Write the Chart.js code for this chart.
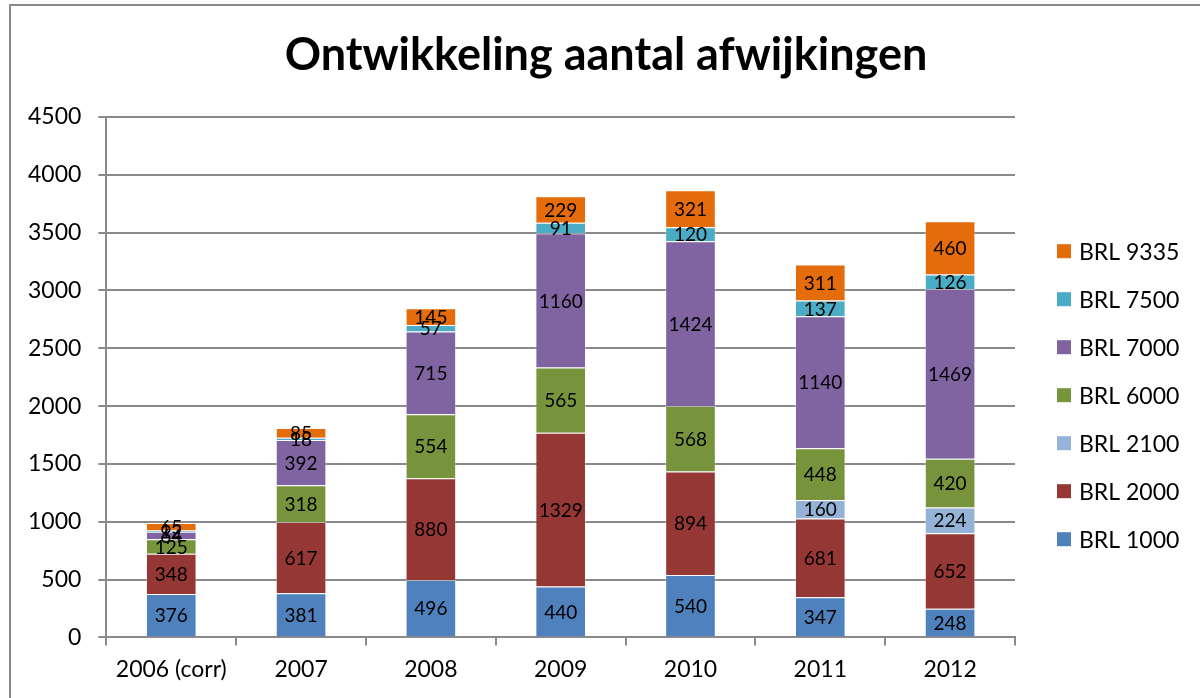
<!DOCTYPE html>
<html>
<head>
<meta charset="utf-8">
<script src="https://cdn.jsdelivr.net/npm/chart.js@4.4.1/dist/chart.umd.min.js"></script>
<style>
  html, body { margin: 0; padding: 0; background: #fff; }
  #wrap { position: relative; width: 1200px; height: 698px; overflow: hidden; }
  #frame { position: absolute; left: 9px; top: 4px; width: 1300px; height: 800px;
           border-top: 2px solid #8a8a8a; border-left: 2px solid #8a8a8a; box-sizing: border-box; }
  canvas { position: absolute; left: 0; top: 0; }
</style>
</head>
<body>
<div id="wrap">
  <div id="frame"></div>
  <canvas id="c" width="1200" height="698"></canvas>
</div>
<script>
const categories = ["2006 (corr)", "2007", "2008", "2009", "2010", "2011", "2012"];
const brl1000 = [376, 381, 496, 440, 540, 347, 248];
const brl2000 = [348, 617, 880, 1329, 894, 681, 652];
const brl2100 = [null, null, null, null, null, 160, 224];
const brl6000 = [125, 318, 554, 565, 568, 448, 420];
const brl7000 = [64, 392, 715, 1160, 1424, 1140, 1469];
const brl7500 = [12, 18, 57, 91, 120, 137, 126];
const brl9335 = [65, 85, 145, 229, 321, 311, 460];
const yTicks = [0, 500, 1000, 1500, 2000, 2500, 3000, 3500, 4000, 4500];
const chartTitle = "Ontwikkeling aantal afwijkingen";

const FONT = "Lato, 'Open Sans', sans-serif";

const valueLabels = {
  id: 'valueLabels',
  afterDatasetsDraw(chart) {
    const ctx = chart.ctx;
    ctx.save();
    ctx.font = "19px " + FONT;
    ctx.fillStyle = "#000";
    ctx.textAlign = "center";
    ctx.textBaseline = "middle";
    chart.data.datasets.forEach((ds, i) => {
      const meta = chart.getDatasetMeta(i);
      if (meta.hidden) return;
      meta.data.forEach((el, j) => {
        const v = ds.data[j];
        if (v === null || v === undefined || v === 0) return;
        const p = el.getProps(['x', 'y', 'base'], true);
        ctx.fillText(String(v), p.x, (p.y + p.base) / 2 + 1);
      });
    });
    ctx.restore();
  }
};

const pageTitle = {
  id: 'pageTitle',
  afterDraw(chart) {
    const ctx = chart.ctx;
    ctx.save();
    ctx.font = "bold 45px " + FONT;
    ctx.fillStyle = "#000";
    ctx.textAlign = "center";
    ctx.textBaseline = "middle";
    ctx.fillText(chartTitle, chart.width / 2 + 6, 55);
    ctx.restore();
  }
};

const sideLegend = {
  id: 'sideLegend',
  afterDraw(chart) {
    const ctx = chart.ctx;
    const ca = chart.chartArea;
    const items = chart.data.datasets.map(d => ({ label: d.label, color: d.backgroundColor })).reverse();
    const gap = 48, box = 14;
    const cy = (ca.top + ca.bottom) / 2 + 18;
    const y0 = cy - gap * (items.length - 1) / 2;
    const x0 = ca.right + 42;
    ctx.save();
    ctx.font = "23px " + FONT;
    ctx.textBaseline = "middle";
    ctx.textAlign = "left";
    items.forEach((it, k) => {
      const y = y0 + k * gap;
      ctx.fillStyle = it.color;
      ctx.fillRect(x0, y - box / 2, box, box);
      ctx.fillStyle = "#000";
      ctx.fillText(it.label, x0 + box + 8, y + 1);
    });
    ctx.restore();
  }
};

const mk = (label, data, color) => ({
  label, data, backgroundColor: color, borderColor: "rgba(255,255,255,0.35)", borderWidth: 1,
  barPercentage: 0.78, categoryPercentage: 0.5
});

new Chart(document.getElementById('c'), {
  type: 'bar',
  data: {
    labels: categories,
    datasets: [
      mk("BRL 1000", brl1000, "#4F81BD"),
      mk("BRL 2000", brl2000, "#953735"),
      mk("BRL 2100", brl2100, "#95B3D7"),
      mk("BRL 6000", brl6000, "#77933C"),
      mk("BRL 7000", brl7000, "#8064A2"),
      mk("BRL 7500", brl7500, "#4BACC6"),
      mk("BRL 9335", brl9335, "#E46C0A")
    ]
  },
  options: {
    responsive: false,
    animation: false,
    devicePixelRatio: 1,
    layout: { padding: { left: 11, right: 185, top: 117, bottom: 5 } },
    plugins: {
      title: { display: false },
      legend: { display: false },
      tooltip: { enabled: false }
    },
    scales: {
      x: {
        stacked: true,
        grid: { display: true, drawOnChartArea: false, drawTicks: true, tickLength: 8, color: "#8a8a8a", lineWidth: 2, offset: true },
        border: { color: "#8a8a8a", width: 2 },
        ticks: { font: { family: FONT, size: 23 }, color: "#000", padding: 10, maxRotation: 0 }
      },
      y: {
        stacked: true,
        min: 0, max: 4500,
        afterBuildTicks(axis) { axis.ticks = yTicks.map(v => ({ value: v })); },
        grid: { color: "#8a8a8a", lineWidth: 2, tickLength: 8 },
        border: { color: "#8a8a8a", width: 2 },
        ticks: { font: { family: FONT, size: 23 }, color: "#000", padding: 17, callback: v => String(v) }
      }
    }
  },
  plugins: [valueLabels, pageTitle, sideLegend]
});
</script>
</body>
</html>
